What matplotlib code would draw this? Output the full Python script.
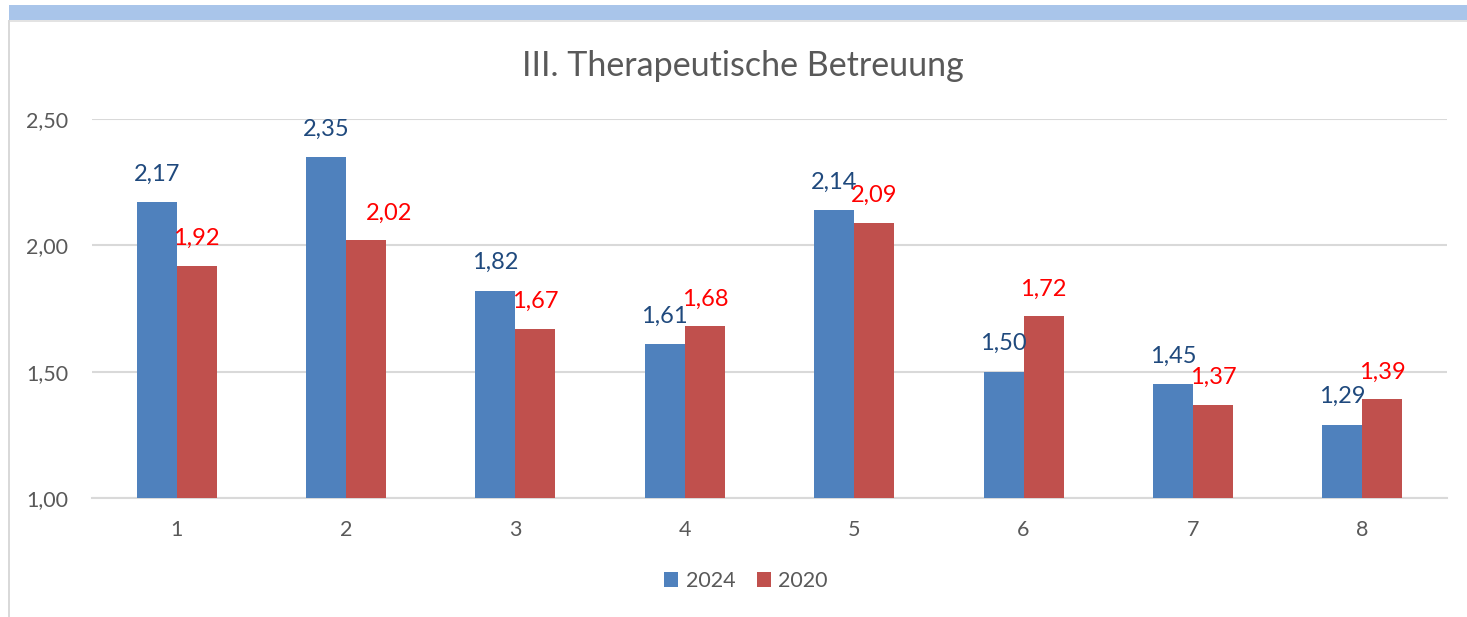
import matplotlib
matplotlib.use("Agg")
import matplotlib.pyplot as plt
from matplotlib.patches import Rectangle
import numpy as np

categories = ["1", "2", "3", "4", "5", "6", "7", "8"]
values_2024 = [2.17, 2.35, 1.82, 1.61, 2.14, 1.50, 1.45, 1.29]
values_2020 = [1.92, 2.02, 1.67, 1.68, 2.09, 1.72, 1.37, 1.39]
series_names = ["2024", "2020"]
y_ticks = [1.00, 1.50, 2.00, 2.50]
title = "III. Therapeutische Betreuung"

# label nudges (pixels) to mimic manually placed labels
dx_2024 = [0, 0, 0, 0, 0, 0, 0, 0]
dx_2020 = [0, 23, 0, 0, 0, 0, 0, 0]

plt.rcParams['font.family'] = ['Lato', 'DejaVu Sans']

BLUE = "#4F81BD"
RED = "#C0504D"
GRID = "#D9D9D9"
TXT = "#595959"

fig = plt.figure(figsize=(14.67, 6.17), dpi=100)
W, H = 1467, 617

# frame decorations
fig.patches.append(Rectangle((9 / W, 1 - 20 / H), 1 - 9 / W, 15 / H, transform=fig.transFigure,
                             facecolor="#A9C5EA", edgecolor="none"))
fig.patches.append(Rectangle((9 / W, 1 - 22 / H), 1 - 9 / W, 2 / H, transform=fig.transFigure,
                             facecolor="#E3E3E3", edgecolor="none"))
fig.patches.append(Rectangle((8 / W, 0), 2 / W, 1 - 20 / H, transform=fig.transFigure,
                             facecolor="#D9D9D9", edgecolor="none"))

ax = fig.add_axes([92 / W, 1 - 498 / H, (1447 - 92) / W, (498 - 119) / H])
x = np.arange(len(categories))
bw = 40 / 169.4
b1 = ax.bar(x - bw / 2, values_2024, bw, bottom=0, color=BLUE, label=series_names[0], zorder=3)
b2 = ax.bar(x + bw / 2, values_2020, bw, bottom=0, color=RED, label=series_names[1], zorder=3)

ax.set_xlim(-0.5, len(categories) - 0.5)
ax.set_ylim(1.0, 2.5)
ax.set_yticks(y_ticks)
ax.set_yticklabels([f"{v:.2f}".replace(".", ",") for v in y_ticks])
ax.set_xticks(x)
ax.set_xticklabels(categories)
ax.tick_params(axis="both", length=0, labelsize=15.5, labelcolor=TXT)
ax.tick_params(axis="y", pad=17)
ax.tick_params(axis="x", pad=16)
for s in ["top", "right", "left"]:
    ax.spines[s].set_visible(False)
ax.spines["bottom"].set_color(GRID)
ax.spines["bottom"].set_linewidth(1.5)
ax.yaxis.grid(True, color=GRID, linewidth=1.5, zorder=0)
ax.set_axisbelow(True)

for i, (v1, v2) in enumerate(zip(values_2024, values_2020)):
    ax.annotate(f"{v1:.2f}".replace(".", ","), (x[i] - bw / 2, v1), xytext=(dx_2024[i], 28),
                textcoords="offset pixels", ha="center", va="center", fontsize=17,
                color="#1F497D", annotation_clip=False)
    ax.annotate(f"{v2:.2f}".replace(".", ","), (x[i] + bw / 2, v2), xytext=(dx_2020[i], 27),
                textcoords="offset pixels", ha="center", va="center", fontsize=17,
                color="#FF0000", annotation_clip=False)

fig.text(743 / W, 1 - 66 / H, title, ha="center", va="center", fontsize=24.5, color=TXT)

leg = fig.legend(handles=[b1, b2], labels=series_names, loc="center", bbox_to_anchor=(746 / W, 1 - 581 / H),
                 ncol=2, frameon=False, fontsize=15.5, handlelength=0.65, handleheight=0.65,
                 handletextpad=0.35, columnspacing=1.0, labelcolor=TXT)

fig.savefig("out.png", dpi=100, facecolor="white")
